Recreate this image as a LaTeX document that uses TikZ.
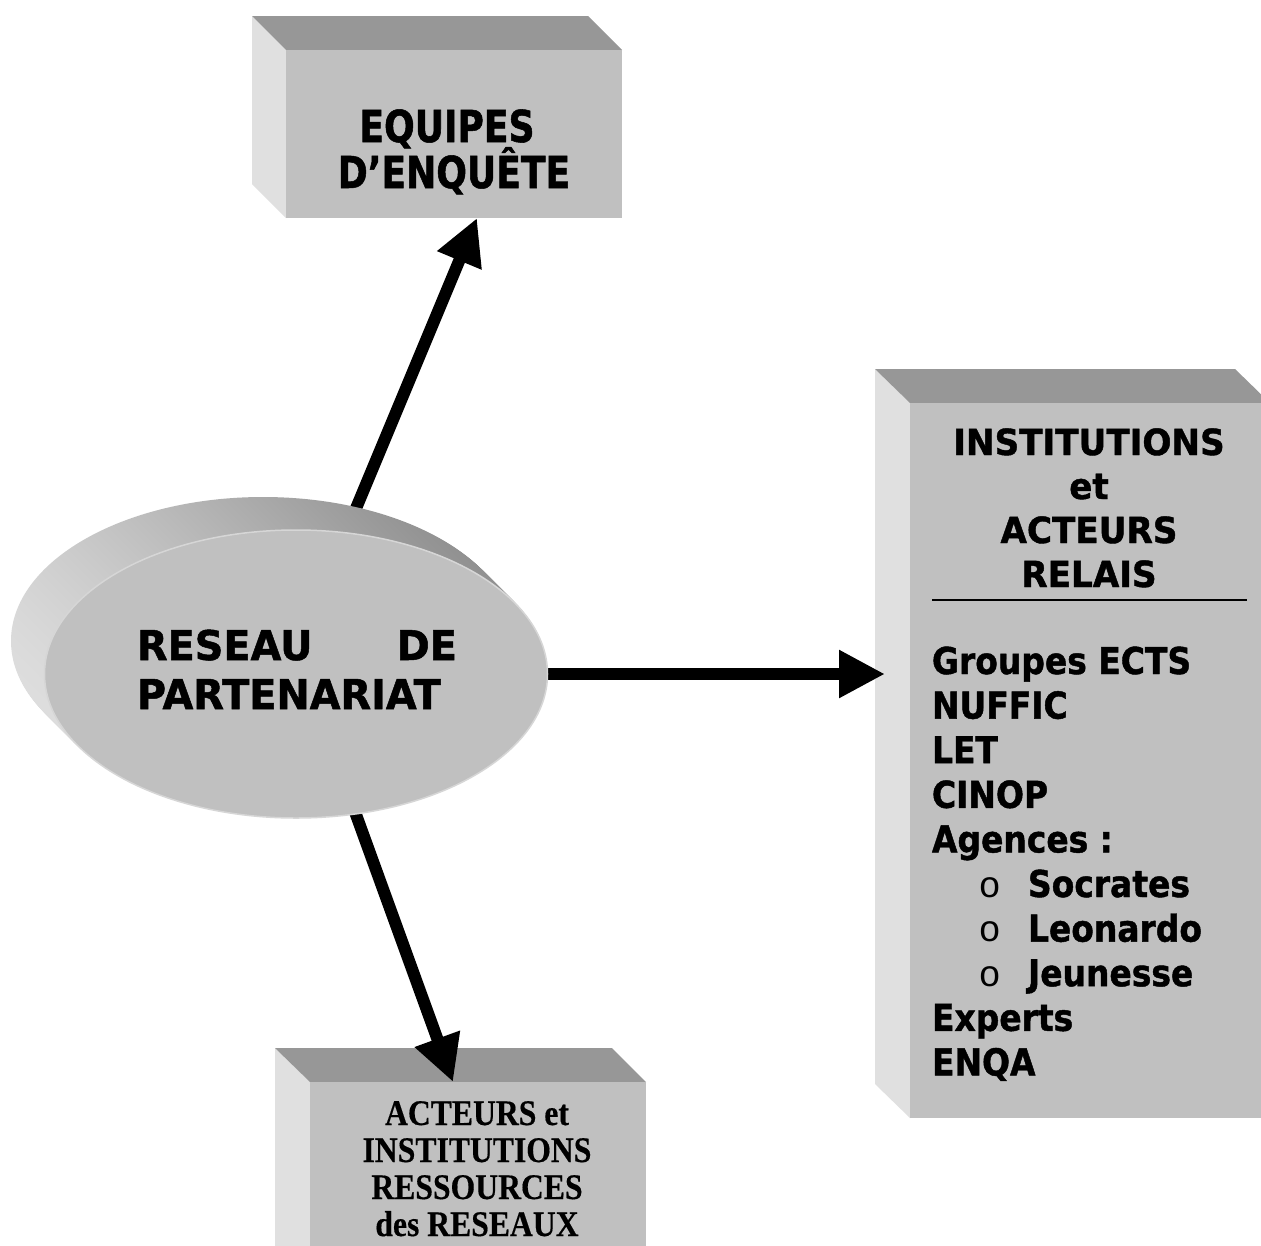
\documentclass[tikz,border=0pt]{standalone}
\usepackage{fontspec}
\usetikzlibrary{arrows.meta,backgrounds,shapes.geometric,calc,shadings}
\newfontfamily\fA[FakeStretch=0.82,FakeBold=1.2]{DejaVu Sans}
\newfontfamily\fB[FakeStretch=0.97,FakeBold=1.2]{DejaVu Sans}
\newfontfamily\fC[FakeStretch=0.95,FakeBold=1.2]{DejaVu Sans}
\newfontfamily\fD[FakeStretch=0.89,FakeBold=1.2]{DejaVu Sans}
\newfontfamily\fE[FakeStretch=0.88,FakeBold=0.4]{Liberation Serif}
\newfontfamily\fF{Liberation Mono}
\definecolor{frontgray}{HTML}{C0C0C0}
\definecolor{topgray}{HTML}{979797}
\definecolor{sidegray}{HTML}{E0E0E0}
\definecolor{rimgray}{HTML}{D6D6D6}
\begin{document}
\begin{tikzpicture}[x=1pt,y=-1pt,
  frontface/.style={fill=frontgray, draw=none, inner sep=0pt, outer sep=0pt},
  topface/.style={fill=topgray},
  sideface/.style={fill=sidegray},
  conn/.style={line width=12pt, draw=black, -{Triangle[length=46pt,width=45pt]}},
  txt/.style={inner sep=0pt, outer sep=0pt, text=black},
  topfont/.style={font=\fA\bfseries\fontsize{44}{46}\selectfont},
  netfont/.style={font=\fB\bfseries\fontsize{41}{46}\selectfont},
  headfont/.style={font=\fC\bfseries\fontsize{36}{44}\selectfont},
  listfont/.style={font=\fD\bfseries\fontsize{37}{44}\selectfont},
  bulfont/.style={font=\fF\fontsize{37}{44}\selectfont},
  resfont/.style={font=\fE\bfseries\fontsize{36}{37}\selectfont},
]
\useasboundingbox (0,0) rectangle (1261,1245);
\clip (0,0) rectangle (1261,1245);

\begin{scope}[on background layer]
  \fill[white] (0,0) rectangle (1261,1245);
  % top box
  \fill[sideface] (252,16) -- (286,50) -- (286,218) -- (252,184) -- cycle;
  \fill[topface] (252,16) -- (588,16) -- (622,50) -- (286,50) -- cycle;
  \node[frontface, minimum width=336pt, minimum height=168pt] (eq) at (454,134) {};
  % right box
  \fill[sideface] (875,369) -- (910,403) -- (910,1118) -- (875,1084) -- cycle;
  \fill[topface] (875,369) -- (1235,369) -- (1270,403) -- (910,403) -- cycle;
  \node[frontface, minimum width=360pt, minimum height=715pt] (rel) at (1090,760.5) {};
  % bottom box
  \fill[sideface] (275,1048) -- (310,1082) -- (310,1260) -- (275,1260) -- cycle;
  \fill[topface] (275,1048) -- (612,1048) -- (646,1082) -- (310,1082) -- cycle;
  \node[frontface, minimum width=336pt, minimum height=178pt] (res) at (478,1171) {};
\end{scope}

% ellipse extrusion
\foreach \i in {33,...,1} {
  \path[upper left={rgb,255:red,208;green,208;blue,208},
        lower left={rgb,255:red,230;green,230;blue,230},
        upper right={rgb,255:red,128;green,128;blue,128},
        lower right={rgb,255:red,176;green,176;blue,176}]
    (296-\i,674-\i) ellipse [x radius=252pt, y radius=144pt];
}
\node[ellipse, fill=frontgray, draw=rimgray, line width=1.5pt,
      minimum width=503pt, minimum height=288pt, inner sep=0pt] (net) at (296,674) {};

\begin{scope}[on background layer]
  \draw[conn] ($(net.center)+(-9,0)$) -- ($(eq.south)+(23,0)$);
  \draw[conn, shorten >=25pt] (net.center) -- (net.center -| rel.west);
  \draw[conn] ($(net.center)+(9,0)$) -- ($(res.north)+(-25,0)$);
\end{scope}

% top box text
\node[txt, topfont, anchor=base] (eqA) at (447,142) {EQUIPES};
\node[txt, topfont, anchor=base] (eqB) at (454,188) {D’ENQUÊTE};

% ellipse text
\node[txt, netfont, anchor=base west] (netA) at (137,660) {\makebox[320pt]{RESEAU\hfill DE}};
\node[txt, netfont, anchor=base west] (netB) at (137,709) {PARTENARIAT};

% right box header
\node[txt, headfont, anchor=base] (h1) at (1089,455) {INSTITUTIONS};
\node[txt, headfont, anchor=base] (h2) at (1089,499) {et};
\node[txt, headfont, anchor=base] (h3) at (1089,543) {ACTEURS};
\node[txt, headfont, anchor=base] (h4) at (1089,587) {RELAIS};
\draw[line width=2pt] (932,600) -- (1247,600);

% right box list
\node[txt, listfont, anchor=base west] (l1) at (932,674) {Groupes ECTS};
\node[txt, listfont, anchor=base west] (l2) at (932,718.6) {NUFFIC};
\node[txt, listfont, anchor=base west] (l3) at (932,763.2) {LET};
\node[txt, listfont, anchor=base west] (l4) at (932,807.8) {CINOP};
\node[txt, listfont, anchor=base west] (l5) at (932,852.4) {Agences :};
\node[txt, bulfont, anchor=base west] (b1) at (978.5,897) {o};
\node[txt, listfont, anchor=base west] (l6) at (1028,897) {Socrates};
\node[txt, bulfont, anchor=base west] (b2) at (978.5,941.6) {o};
\node[txt, listfont, anchor=base west] (l7) at (1028,941.6) {Leonardo};
\node[txt, bulfont, anchor=base west] (b3) at (978.5,986.2) {o};
\node[txt, listfont, anchor=base west] (l8) at (1028,986.2) {Jeunesse};
\node[txt, listfont, anchor=base west] (l9) at (932,1030.8) {Experts};
\node[txt, listfont, anchor=base west] (l10) at (932,1075.4) {ENQA};

% bottom box text
\node[txt, resfont, anchor=base] (r1) at (477,1125) {ACTEURS et};
\node[txt, resfont, anchor=base] (r2) at (477,1162) {INSTITUTIONS};
\node[txt, resfont, anchor=base] (r3) at (477,1199) {RESSOURCES};
\node[txt, resfont, anchor=base] (r4) at (477,1236) {des RESEAUX};
\end{tikzpicture}
\end{document}
